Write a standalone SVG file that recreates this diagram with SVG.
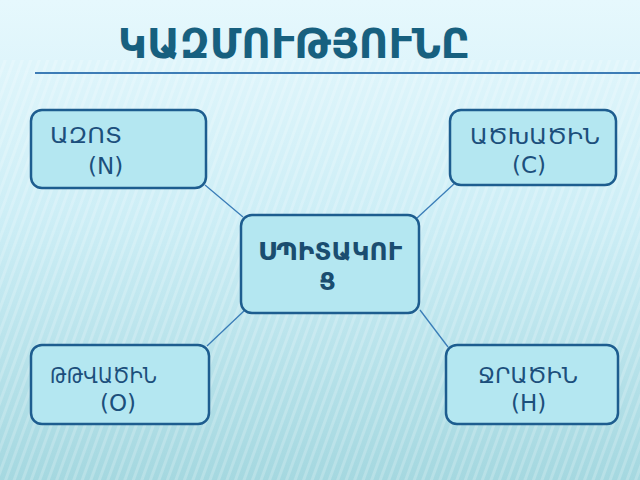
<svg xmlns="http://www.w3.org/2000/svg" width="640" height="480" viewBox="0 0 640 480">
<defs>
<linearGradient id="bg" x1="0" y1="0" x2="0" y2="1">
<stop offset="0" stop-color="#e6f8fd"/>
<stop offset="0.45" stop-color="#cdeef6"/>
<stop offset="1" stop-color="#a5d8e0"/>
</linearGradient>
<pattern id="stripes" width="8" height="8" patternUnits="userSpaceOnUse" patternTransform="rotate(20)">
<rect width="3" height="8" fill="#ffffff" opacity="0.2"/>
</pattern>
<style>
.box{fill:#b4e7f1;stroke:#1d5d8f;stroke-width:2.5}
.lbl{font-family:"DejaVu Sans",sans-serif;font-size:22px;fill:#1c4f7c}
.par{font-size:23px}
.bold{font-weight:bold;fill:#1a4d70;font-size:24px}
.conn{stroke:#3a7db8;stroke-width:1.3;fill:none}
.title{font-family:"DejaVu Sans",sans-serif;font-weight:bold;font-size:41px;fill:#17607f}
</style>
</defs>
<rect width="640" height="480" fill="url(#bg)"/>
<rect y="60" width="640" height="420" fill="url(#stripes)"/>
<text class="title" x="118" y="58" textLength="352" lengthAdjust="spacingAndGlyphs">ԿԱԶՄՈՒԹՅՈՒՆԸ</text>
<line x1="35" y1="73" x2="640" y2="73" stroke="#3d7cb6" stroke-width="2"/>
<g id="connectors">
<line class="conn" x1="205" y1="185" x2="243" y2="217"/>
<line class="conn" x1="455" y1="183" x2="417" y2="218"/>
<line class="conn" x1="245" y1="310" x2="207" y2="346"/>
<line class="conn" x1="420" y1="310" x2="448" y2="347"/>
</g>
<g id="azot">
<rect class="box" x="31" y="110" width="175" height="78" rx="11"/>
<text class="lbl" x="50" y="143" textLength="72" lengthAdjust="spacingAndGlyphs">ԱԶՈՏ</text>
<text class="lbl par" x="88" y="174">(N)</text>
</g>
<g id="atsxatsin">
<rect class="box" x="450" y="110" width="166" height="75" rx="11"/>
<text class="lbl" x="470" y="144" textLength="130" lengthAdjust="spacingAndGlyphs">ԱԾԽԱԾԻՆ</text>
<text class="lbl par" x="512" y="173">(C)</text>
</g>
<g id="spitakuts">
<rect class="box" x="241" y="215" width="178" height="98" rx="11"/>
<text class="lbl bold" x="258" y="260" textLength="144" lengthAdjust="spacingAndGlyphs">ՍՊԻՏԱԿՈՒ</text>
<text class="lbl bold" x="319" y="290">Ց</text>
</g>
<g id="ttvatsin">
<rect class="box" x="31" y="345" width="178" height="79" rx="11"/>
<text class="lbl" x="50" y="383" textLength="107" lengthAdjust="spacingAndGlyphs">ԹԹՎԱԾԻՆ</text>
<text class="lbl par" x="100" y="411">(O)</text>
</g>
<g id="jratsin">
<rect class="box" x="446" y="345" width="172" height="79" rx="11"/>
<text class="lbl" x="478" y="383" textLength="100" lengthAdjust="spacingAndGlyphs">ՋՐԱԾԻՆ</text>
<text class="lbl par" x="511" y="411">(H)</text>
</g>
</svg>
